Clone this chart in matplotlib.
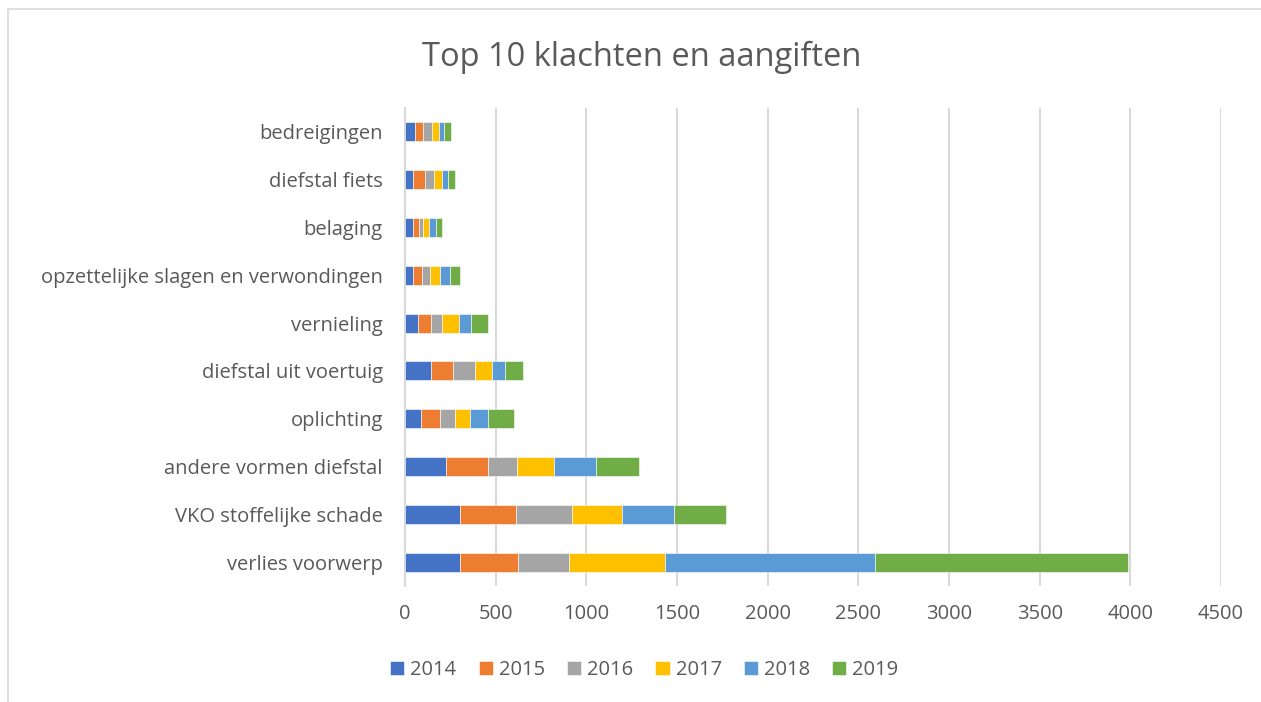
import numpy as np
import matplotlib

matplotlib.use("Agg")
import matplotlib.pyplot as plt
from matplotlib.patches import Rectangle

# Categories listed bottom -> top, as drawn.
categories = [
    "verlies voorwerp",
    "VKO stoffelijke schade",
    "andere vormen diefstal",
    "oplichting",
    "diefstal uit voertuig",
    "vernieling",
    "opzettelijke slagen en verwondingen",
    "belaging",
    "diefstal fiets",
    "bedreigingen",
]
years = ["2014", "2015", "2016", "2017", "2018", "2019"]

v2014 = [305, 305, 228, 90, 145, 70, 46, 42, 42, 55]
v2015 = [320, 307, 231, 105, 121, 75, 48, 37, 70, 46]
v2016 = [279, 307, 157, 81, 122, 61, 46, 22, 50, 50]
v2017 = [531, 276, 206, 84, 92, 92, 53, 33, 44, 37]
v2018 = [1159, 288, 233, 99, 73, 68, 53, 35, 29, 27]
v2019 = [1393, 287, 234, 144, 99, 90, 56, 37, 39, 37]

series = [v2014, v2015, v2016, v2017, v2018, v2019]
colors = ["#4472C4", "#ED7D31", "#A5A5A5", "#FFC000", "#5B9BD5", "#70AD47"]
xticks = [0, 500, 1000, 1500, 2000, 2500, 3000, 3500, 4000, 4500]

TEXT = "#595959"
GRID = "#D9D9D9"
plt.rcParams["font.family"] = ["Open Sans", "DejaVu Sans"]

fig = plt.figure(figsize=(12.61, 7.02), dpi=100)
ax = fig.add_axes([0.3212, 0.1652, 0.6471, 0.681])

# chart-area border
fig.patches.append(Rectangle((8 / 1261, -0.01), 1.05, (702 - 9) / 702 + 0.01,
                             transform=fig.transFigure, fill=False,
                             edgecolor=GRID, lw=1.2))

y = np.arange(len(categories))
left = np.zeros(len(categories))
for name, vals, col in zip(years, series, colors):
    ax.barh(y, vals, left=left, height=0.4, color=col, edgecolor="white",
            linewidth=0.4, label=name, zorder=3)
    left += np.array(vals)

ax.set_xlim(0, 4500)
ax.set_ylim(-0.5, len(categories) - 0.5)
ax.set_xticks(xticks)
ax.set_yticks(y)
ax.set_yticklabels(categories)
ax.tick_params(axis="both", length=0, colors=TEXT, labelsize=14.5)
ax.tick_params(axis="y", pad=16)
ax.tick_params(axis="x", pad=13)
ax.grid(axis="x", color=GRID, lw=1.5, zorder=0)
for s in ["top", "right", "bottom"]:
    ax.spines[s].set_visible(False)
ax.spines["left"].set_color(GRID)
ax.spines["left"].set_linewidth(1.5)

fig.text(0.509, 0.918, "Top 10 klachten en aangiften", ha="center",
         va="center", fontsize=23.5, color=TEXT)

leg = fig.legend(loc="center", bbox_to_anchor=(0.511, 0.045), ncol=6,
                 frameon=False, fontsize=14.5, handlelength=0.7,
                 handleheight=0.7, handletextpad=0.3, columnspacing=1.1)
for t in leg.get_texts():
    t.set_color(TEXT)

fig.savefig("out.png", dpi=100)
